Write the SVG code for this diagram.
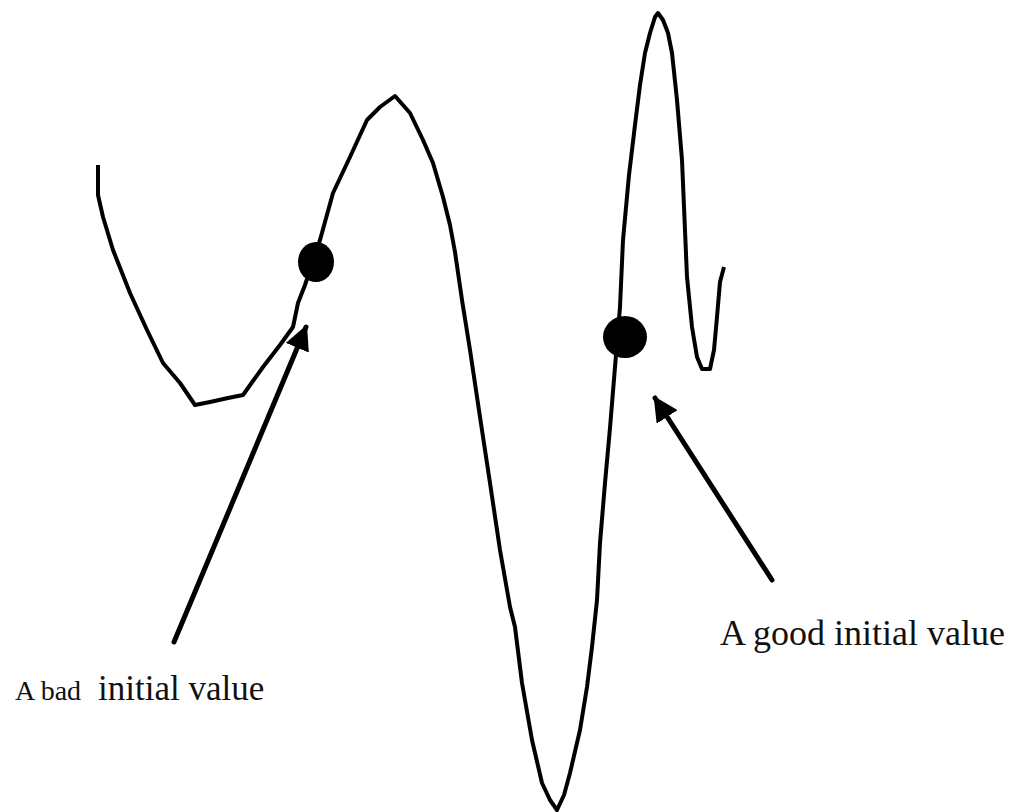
<svg xmlns="http://www.w3.org/2000/svg" width="1020" height="812" viewBox="0 0 1020 812">
<defs>
<style>
.curve{fill:none;stroke:#000;stroke-width:4;stroke-linejoin:round;stroke-linecap:butt}
.arrow{fill:none;stroke:#000;stroke-width:5;stroke-linecap:round}
.lbl{font-family:"Liberation Serif","Times New Roman",serif;fill:#111}
</style>
<marker id="ah" viewBox="0 0 10 10" refX="9" refY="5" markerWidth="5" markerHeight="5" orient="auto" markerUnits="strokeWidth">
<path d="M0,0 L10,5 L0,10 Z" fill="#000"/>
</marker>
</defs>
<rect width="1020" height="812" fill="#fff"/>
<g id="curve">
<polyline class="curve" points="98,165 98,195 103,217 113,250 130,293 147,330 163,363 180,383 195,405 210,402 228,398 243,395 263,367 280,345 293,327 298,303 305,285 320,240 333,193 350,157 367,120 380,107 395,96 410,113 423,140 433,163 443,197 450,225 455,252 462,300 470,350 480,417 490,483 500,550 510,607 515,627 522,683 532,740 542,783 550,800 557,810 564,795 570,773 580,730 587,687 592,647 597,600 600,543 605,483 610,428 615,367 620,307 623,240 629,175 635,125 640,85 645,53 650,33 655,17 658,13 663,20 668,33 672,53 677,100 682,160 687,277 692,327 697,357 702,369 710,369 714,350 717,317 720,282 724,267"/>
</g>
<g id="bad-point"><ellipse cx="316" cy="262" rx="18" ry="20" fill="#000"/></g>
<g id="good-point"><ellipse cx="625" cy="337" rx="22" ry="21" fill="#000"/></g>
<g id="connectors">
<line class="arrow" x1="174" y1="642" x2="306" y2="327" marker-end="url(#ah)"/>
<line class="arrow" x1="772" y1="580" x2="655" y2="398" marker-end="url(#ah)"/>
</g>
<g id="label-bad">
<text class="lbl" y="700"><tspan x="15" font-size="28">A bad</tspan><tspan x="98" font-size="35">initial value</tspan></text>
</g>
<g id="label-good">
<text class="lbl" x="720" y="645" font-size="36">A good initial value</text>
</g>
</svg>
